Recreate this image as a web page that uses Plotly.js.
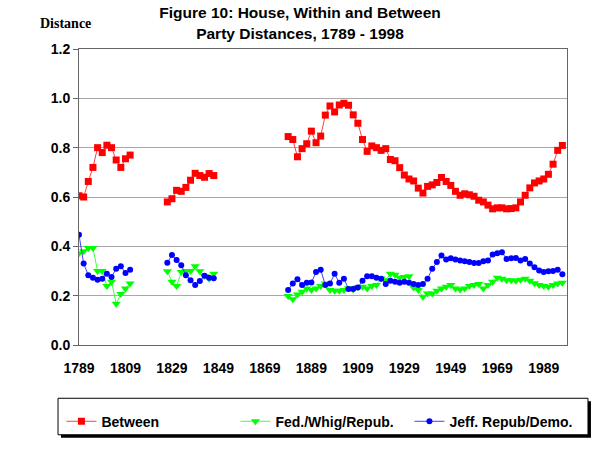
<!DOCTYPE html>
<html>
<head>
<meta charset="utf-8">
<script src="https://cdn.plot.ly/plotly-3.0.1.min.js"></script>
<style>html,body{margin:0;padding:0;background:#fff}#chart{width:600px;height:450px}</style>
</head>
<body>
<div id="chart"></div>
<script>
// Congress start years, 1789 - 1997
var years = [1789,1791,1793,1795,1797,1799,1801,1803,1805,1807,1809,1811,
  1813,1815,1817,1819,1821,1823,1825,
  1827,1829,1831,1833,1835,1837,1839,1841,1843,1845,1847,
  1849,1851,1853,1855,1857,1859,1861,1863,1865,1867,1869,1871,1873,1875,1877,
  1879,1881,1883,1885,1887,1889,1891,1893,1895,1897,1899,1901,1903,1905,1907,1909,
  1911,1913,1915,1917,1919,1921,1923,1925,1927,1929,1931,1933,1935,1937,1939,
  1941,1943,1945,1947,1949,1951,1953,1955,1957,1959,1961,1963,1965,1967,1969,
  1971,1973,1975,1977,1979,1981,1983,1985,1987,1989,1991,1993,1995,1997];

var between = [0.605,0.60,0.663,0.72,0.80,0.78,0.81,0.80,0.75,0.72,0.755,0.77,
  null,null,null,null,null,null,null,
  0.58,0.593,0.627,0.623,0.639,0.668,0.696,0.687,0.68,0.695,0.687,
  null,null,null,null,null,null,null,null,null,null,null,null,null,null,null,
  0.845,0.833,0.763,0.796,0.816,0.867,0.82,0.847,0.932,0.969,0.945,0.973,0.98,0.972,0.933,0.899,
  0.833,0.785,0.807,0.80,0.789,0.796,0.752,0.747,0.719,0.689,0.673,0.665,0.636,0.616,0.643,
  0.649,0.659,0.679,0.663,0.647,0.623,0.607,0.613,0.609,0.603,0.587,0.58,0.567,0.552,0.556,
  0.556,0.552,0.553,0.556,0.58,0.607,0.637,0.657,0.665,0.673,0.692,0.733,0.789,0.809];

var fedWhigRepub = [0.372,0.38,0.393,0.393,0.30,0.30,0.239,0.256,0.167,0.207,0.229,0.249,
  null,null,null,null,null,null,null,
  0.299,0.256,0.239,0.296,0.30,0.30,0.319,0.299,0.28,0.269,0.289,
  null,null,null,null,null,null,null,null,null,null,null,null,null,null,null,
  0.199,0.185,0.205,0.216,0.229,0.223,0.229,0.239,0.249,0.223,0.22,0.22,0.223,0.23,0.225,0.235,
  0.236,0.229,0.239,0.243,0.27,0.263,0.289,0.285,0.273,0.276,0.279,0.233,0.223,0.196,0.209,
  0.209,0.22,0.229,0.236,0.243,0.229,0.225,0.229,0.239,0.243,0.247,0.229,0.243,0.256,0.273,
  0.269,0.263,0.263,0.26,0.265,0.269,0.26,0.25,0.243,0.239,0.236,0.243,0.249,0.252];

var jeffRepubDemo = [0.447,0.33,0.283,0.273,0.265,0.269,0.289,0.276,0.309,0.319,0.292,0.305,
  null,null,null,null,null,null,null,
  0.333,0.365,0.345,0.323,0.283,0.263,0.243,0.259,0.281,0.273,0.271,
  null,null,null,null,null,null,null,null,null,null,null,null,null,null,null,
  0.223,0.249,0.267,0.243,0.252,0.253,0.296,0.305,0.243,0.249,0.289,0.252,0.269,0.227,0.227,0.233,
  0.26,0.279,0.279,0.273,0.269,0.247,0.26,0.256,0.252,0.256,0.252,0.247,0.243,0.247,0.269,
  0.309,0.336,0.363,0.347,0.352,0.347,0.343,0.34,0.336,0.332,0.332,0.34,0.343,0.367,0.372,
  0.376,0.349,0.352,0.353,0.343,0.349,0.33,0.315,0.302,0.296,0.299,0.30,0.305,0.287];

var xTickVals = [1789,1809,1829,1849,1869,1889,1909,1929,1949,1969,1989];
var yTickVals = [0,0.2,0.4,0.6,0.8,1.0,1.2];

var sans = 'Liberation Sans, Arial, sans-serif';

var traces = [
  {x: years, y: between, name: 'Between', type: 'scatter', mode: 'lines+markers',
   connectgaps: false,
   line: {color: '#ff4040', width: 1},
   marker: {symbol: 'square', size: 7, color: '#ff0000'}},
  {x: years, y: fedWhigRepub, name: 'Fed./Whig/Repub.', type: 'scatter', mode: 'lines+markers',
   connectgaps: false,
   line: {color: '#40ff40', width: 1},
   marker: {symbol: 'triangle-down', size: 8, color: '#00ff00'}},
  {x: years, y: jeffRepubDemo, name: 'Jeff. Repub/Demo.', type: 'scatter', mode: 'lines+markers',
   connectgaps: false,
   line: {color: '#4040ff', width: 1},
   marker: {symbol: 'circle', size: 6, color: '#0000ff'}}
];

var layout = {
  width: 600, height: 450,
  margin: {l: 79, r: 33, t: 49, b: 101},
  paper_bgcolor: '#ffffff', plot_bgcolor: '#ffffff',
  showlegend: true,
  title: {
    text: '<b>Figure 10: House, Within and Between<br>Party Distances, 1789 - 1998</b>',
    x: 0.5, xref: 'container', xanchor: 'center',
    y: 0.959, yref: 'container', yanchor: 'top',
    font: {family: sans, size: 15.5, color: '#000'}
  },
  xaxis: {
    range: [1789, 1999],
    tickmode: 'array', tickvals: xTickVals, ticktext: xTickVals.map(String),
    showgrid: false, zeroline: false,
    showline: true, linecolor: '#666666', linewidth: 1, mirror: true,
    ticks: '', ticklabelstandoff: 10,
    tickfont: {family: sans, size: 14, color: '#000', weight: 'bold'}
  },
  yaxis: {
    range: [0, 1.2],
    tickmode: 'array', tickvals: yTickVals, ticktext: yTickVals.map(function(v){return v.toFixed(1);}),
    showgrid: true, gridcolor: '#a8a8a8', gridwidth: 1, zeroline: false,
    showline: true, linecolor: '#666666', linewidth: 1, mirror: true,
    ticks: 'outside', ticklen: 5, tickcolor: '#666666',
    tickfont: {family: sans, size: 14, color: '#000', weight: 'bold'}
  },
  legend: {
    orientation: 'h',
    x: -0.036, xanchor: 'left',
    y: -0.205, yanchor: 'top',
    bgcolor: 'rgba(0,0,0,0)', borderwidth: 0,
    itemwidth: 30,
    entrywidth: 129, entrywidthmode: 'pixels',
    font: {family: sans, size: 14, color: '#000', weight: 'bold'}
  },
  shapes: [
    {type: 'rect', xref: 'paper', yref: 'paper', layer: 'above',
     x0: -0.0369, x1: 1.0491, y0: -0.3133, y1: -0.19,
     fillcolor: '#000000', line: {width: 0}},
    {type: 'rect', xref: 'paper', yref: 'paper', layer: 'above',
     x0: -0.0430, x1: 1.0430, y0: -0.3033, y1: -0.18,
     fillcolor: '#ffffff', line: {color: '#000000', width: 1}}
  ],
  annotations: [
    {text: '<b>Distance</b>', xref: 'paper', yref: 'paper', x: -0.027, y: 1.087,
     xanchor: 'center', yanchor: 'middle', showarrow: false,
     font: {family: 'Liberation Serif, Times New Roman, serif', size: 14, color: '#000'}}
  ]
};

Plotly.newPlot('chart', traces, layout, {displayModeBar: false, staticPlot: true});
</script>
</body>
</html>
